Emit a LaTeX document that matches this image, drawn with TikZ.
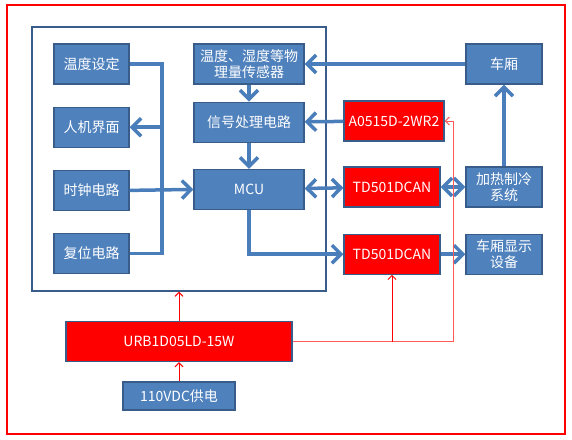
\documentclass[tikz,border=0pt]{standalone}
\usepackage{fontspec}
\usepackage{tikz}
\usetikzlibrary{arrows.meta, positioning}
\newfontfamily\cjk{Noto Sans CJK SC}
\definecolor{boxblue}{RGB}{79,129,189}
\definecolor{edgeblue}{RGB}{56,93,138}
\definecolor{linkblue}{RGB}{74,126,187}
\definecolor{pinkred}{RGB}{255,90,90}

\begin{document}
\begin{tikzpicture}[x=1pt,y=-1pt,>={Straight Barb[length=9pt,width=18pt]},node distance=22pt]
    \tikzstyle{blk}=[draw=edgeblue,fill=boxblue,line width=1.2pt,text=white,font=\cjk\fontsize{14}{15.5}\selectfont,align=center,inner sep=0pt,minimum height=40pt]
    \tikzstyle{conv}=[blk,fill=red]
    \tikzstyle{link}=[draw=linkblue,line width=3.5pt]
    \tikzstyle{pwr}=[draw=red,line width=1pt,->,>={Straight Barb[length=4pt,width=8pt]}]
    \useasboundingbox (0,0) rectangle (572,439);
    \draw[red,line width=2pt] (7,5) rectangle (565,434);
    \node[draw=edgeblue,line width=1.2pt,minimum width=294pt,minimum height=264pt] (board) at (179,159) {};

    % controller board
    \node[blk,minimum width=75pt]                 (temp)   at (91.5,64) {温度设定};
    \node[blk,minimum width=75pt,below=of temp]   (hmi)                 {人机界面};
    \node[blk,minimum width=75pt,below=of hmi]    (clock)               {时钟电路};
    \node[blk,minimum width=75pt,below=of clock]  (reset)               {复位电路};
    \node[blk,minimum width=110pt]                (sensor) at (249,64)  {温度、湿度等物\\理量传感器};
    \node[blk,minimum width=110pt,below=17pt of sensor] (signal)        {信号处理电路};
    \node[blk,minimum width=110pt,below=26pt of signal] (mcu)           {MCU};

    % converters
    \node[conv,minimum width=100pt]               (a0515)  at (394,121) {A0515D-2WR2};
    \node[conv,minimum width=96pt]                (td1)    at (392,187) {TD501DCAN};
    \node[conv,minimum width=96pt,below=26pt of td1] (td2)              {TD501DCAN};
    \node[conv,minimum width=226pt]               (urb)    at (179,341.5) {URB1D05LD-15W};
    \node[blk,minimum width=112pt,minimum height=28pt] (vdc) at (179,396) {110VDC供电};

    % vehicle side
    \node[blk,minimum width=76pt]                 (car)    at (504,64)  {车厢};
    \node[blk,minimum width=76pt]                 (heat)   at (504,187) {加热制冷\\系统};
    \node[blk,minimum width=76pt,below=26pt of heat] (disp)             {车厢显示\\设备};

    \coordinate (bustop) at (162,64);
    \coordinate (riser)  at (453,121);

    \draw[link] (temp.east) -- (bustop) -- (bustop |- reset.east) -- (reset.east);
    \draw[link,->] (bustop |- hmi.east) -- (hmi.east);
    \draw[link,->] (clock.east) -- (mcu.west);
    \draw[link,->] (sensor) -- (signal);
    \draw[link,->] (signal) -- (mcu);
    \draw[link,->] (car) -- (sensor);
    \draw[link,->] (a0515) -- (signal);
    \draw[link,<->] (mcu) -- (td1);
    \draw[link,<->] (td1) -- (heat);
    \draw[link,->] (heat) -- (car);
    \draw[link,->] (mcu.south) |- (td2.west);
    \draw[link,->] (td2) -- (disp);

    \draw[pwr] (vdc) -- (urb);
    \draw[pwr] (urb.north) -- (urb.north |- board.south);
    \draw[pwr,draw=pinkred] (urb.east) -| (riser) -- (a0515.east);
    \draw[pwr] (td2.south |- urb.east) -- (td2.south);
\end{tikzpicture}
\end{document}
